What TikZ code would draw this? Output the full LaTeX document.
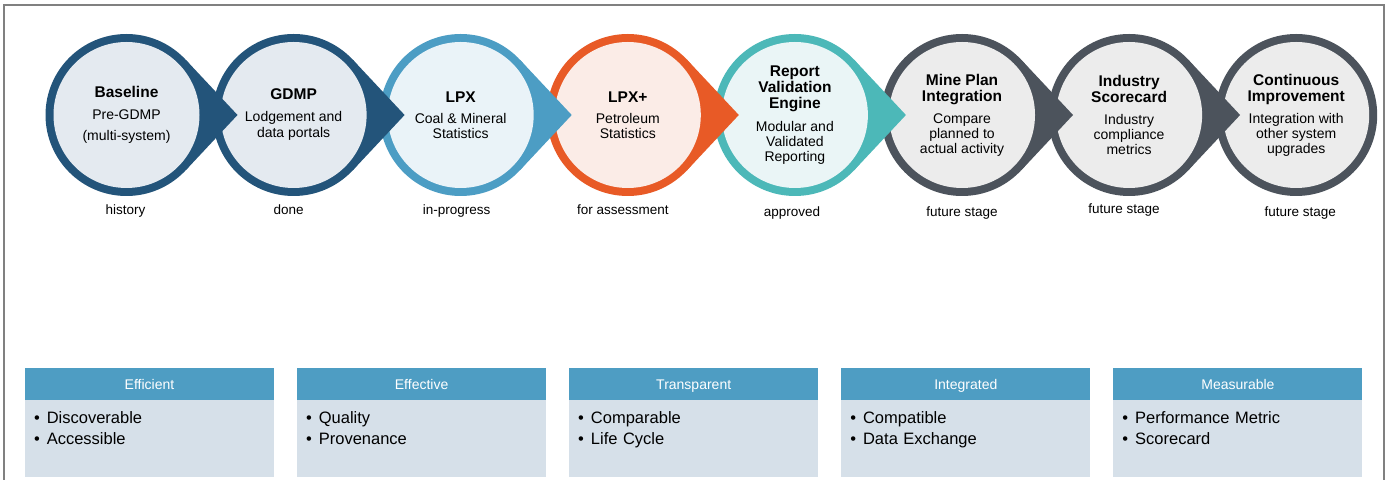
\documentclass[tikz,border=0pt]{standalone}
\usepackage{fontspec}
\setmainfont{Liberation Sans}
\usetikzlibrary{positioning,calc}

\definecolor{navy}{RGB}{35,84,122}
\definecolor{sky}{RGB}{76,157,196}
\definecolor{rust}{RGB}{232,90,38}
\definecolor{teal}{RGB}{76,184,184}
\definecolor{slate}{RGB}{76,83,92}
\definecolor{paleA}{RGB}{228,234,240}
\definecolor{paleB}{RGB}{234,243,248}
\definecolor{paleC}{RGB}{251,236,231}
\definecolor{paleD}{RGB}{234,245,246}
\definecolor{paleE}{RGB}{236,236,236}
\definecolor{hdr}{RGB}{78,157,195}
\definecolor{hbody}{RGB}{214,224,233}
\definecolor{framegray}{RGB}{128,128,128}

\newcommand{\stagetitle}[1]{{\fontsize{15.5}{16}\selectfont\bfseries #1}}
\newcommand{\pt}[1]{\textbullet\hspace{7pt}#1}

\tikzset{
  stage/.style={circle,inner sep=0pt,minimum size=146pt,align=center,
    font=\fontsize{14}{15}\selectfont},
  note/.style={anchor=base,font=\fontsize{13.5}{15}\selectfont},
  head/.style={fill=hdr,text=white,minimum width=249pt,minimum height=32pt,
    inner sep=0pt,text height=13pt,text depth=2pt,font=\fontsize{14}{16}\selectfont},
  pts/.style={fill=hbody,text width=231pt,inner xsep=9pt,inner ysep=0pt,
    text height=23pt,text depth=54pt,align=left,
    font=\fontsize{16.5}{21}\selectfont},
  frame/.style={draw=framegray,line width=2pt}
}

\begin{document}
\begin{tikzpicture}[x=1pt,y=1pt]
\useasboundingbox (0,0) rectangle (1391,479);
\clip (0,0) rectangle (1391,479);
\draw[frame] (4,-20) -- (4,474) -- (1384,474) -- (1384,-20);

% rings, from the right so that each tip lies over the next ring
\foreach \i/\ring/\pale in {8/slate/paleE,7/slate/paleE,6/slate/paleE,5/teal/paleD,
                            4/rust/paleC,3/sky/paleB,2/navy/paleA,1/navy/paleA}{
  \coordinate (c\i) at ({126.5+167.1*(\i-1)},364);
  \fill[\ring] (c\i) circle (81);
  \ifnum\i<8
    \fill[\ring] ($(c\i)+(43.1:81)$) -- ($(c\i)+(111,0)$) -- ($(c\i)+(-43.1:81)$) -- cycle;
  \fi
  \fill[\pale] (c\i) circle (73);
}

% stage texts
\node[stage] (s1) at (c1) {\stagetitle{Baseline}\\[7pt] Pre-GDMP\\[6pt] (multi-system)};
\node[stage] (s2) at (c2) {\stagetitle{GDMP}\\[7pt] Lodgement and\\[1pt] data portals};
\node[stage] (s3) at (c3) {\stagetitle{LPX}\\[6pt] Coal \& Mineral\\ Statistics};
\node[stage] (s4) at (c4) {\stagetitle{LPX+}\\[6pt] Petroleum\\ Statistics};
\node[stage] (s5) at (c5) {\stagetitle{Report}\\[1pt] \stagetitle{Validation}\\[1pt]
  \stagetitle{Engine}\\[8pt] Modular and\\ Validated\\ Reporting};
\node[stage] (s6) at (c6) {\stagetitle{Mine Plan}\\[1pt] \stagetitle{Integration}\\[7pt]
  Compare\\ planned to\\ actual activity};
\node[stage] (s7) at (c7) {\stagetitle{Industry}\\[1pt] \stagetitle{Scorecard}\\[7pt]
  Industry\\ compliance\\ metrics};
\node[stage] (s8) at (c8) {\stagetitle{Continuous}\\[1pt] \stagetitle{Improvement}\\[7pt]
  Integration with\\ other system\\ upgrades};

% status under each stage
\node[note] (n1) at ($(c1)+(-1,-100)$) {history};
\node[note] (n2) at ($(c2)+(-5,-100)$) {done};
\node[note] (n3) at ($(c3)+(-4,-100)$) {in-progress};
\node[note] (n4) at ($(c4)+(-5,-100)$) {for assessment};
\node[note] (n5) at ($(c5)+(-3,-102)$) {approved};
\node[note] (n6) at ($(c6)+(0,-102)$) {future stage};
\node[note] (n7) at ($(c7)+(-5,-99)$) {future stage};
\node[note] (n8) at ($(c8)+(4,-102)$) {future stage};

% principles
\node[head] (h1) at (149.5,95) {Efficient};
\node[head, right=22.7pt of h1] (h2) {Effective};
\node[head, right=22.7pt of h2] (h3) {Transparent};
\node[head, right=22.7pt of h3] (h4) {Integrated};
\node[head, right=22.7pt of h4] (h5) {Measurable};

\node[pts, below=0pt of h1] (b1) {\pt{Discoverable}\\ \pt{Accessible}};
\node[pts, below=0pt of h2] (b2) {\pt{Quality}\\ \pt{Provenance}};
\node[pts, below=0pt of h3] (b3) {\pt{Comparable}\\ \pt{Life Cycle}};
\node[pts, below=0pt of h4] (b4) {\pt{Compatible}\\ \pt{Data Exchange}};
\node[pts, below=0pt of h5] (b5) {\pt{Performance Metric}\\ \pt{Scorecard}};
\end{tikzpicture}
\end{document}
